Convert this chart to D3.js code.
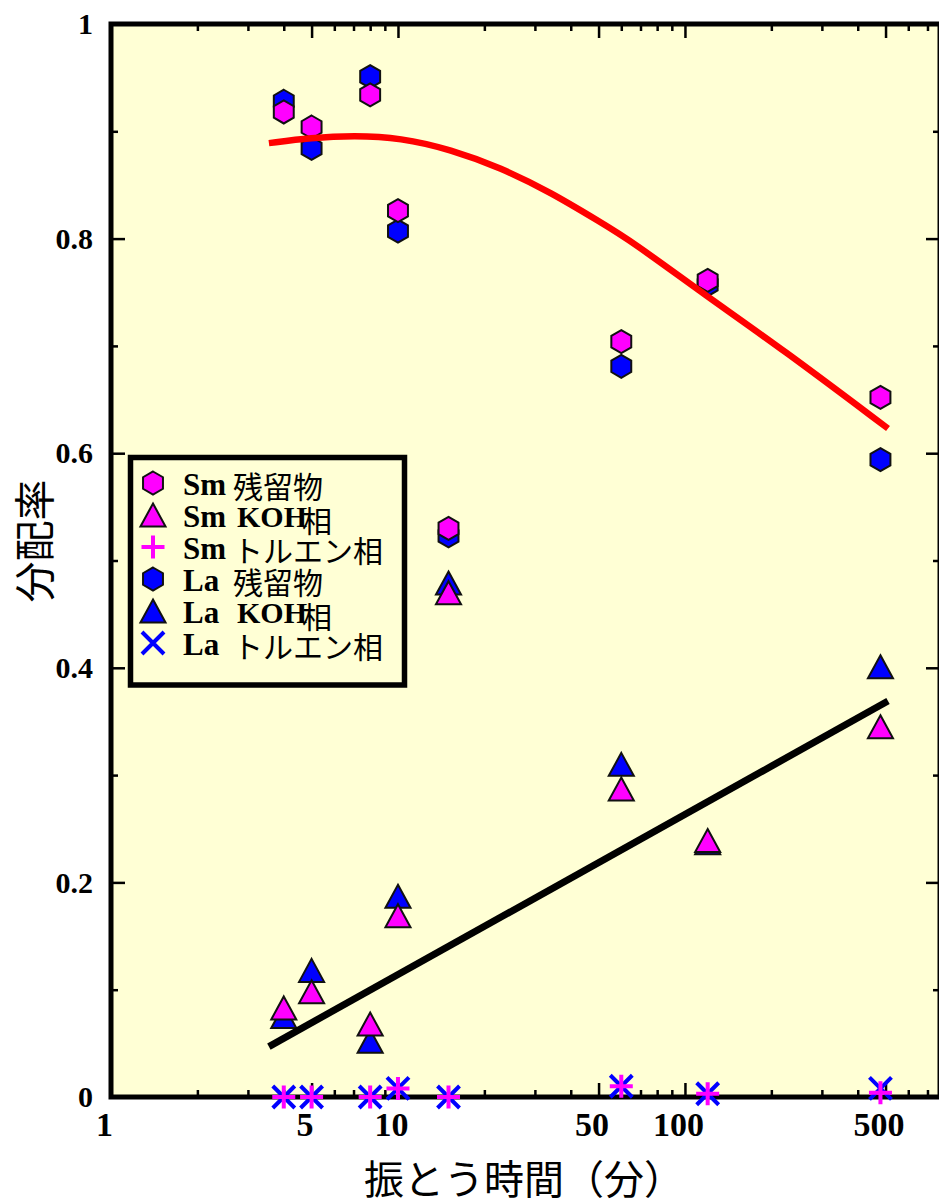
<!DOCTYPE html>
<html lang="ja">
<head>
<meta charset="UTF-8">
<title>分配率</title>
<script src="https://d3js.org/d3.v7.min.js"></script>
<style>
  body { margin: 0; background: #fff; }
  .tick text { font-family: "Liberation Serif", "Times New Roman", serif; font-weight: bold; font-size: 30px; fill: #000; }
  .xaxis .tick text { font-size: 34px; }
  .tick line { stroke: #000; stroke-width: 2.5px; }
  .jp { font-family: "Noto Sans CJK JP", sans-serif; fill: #000; }
  .lat { font-family: "Liberation Serif", "Times New Roman", serif; font-weight: bold; fill: #000; }
</style>
</head>
<body>
<svg id="chart" width="939" height="1204"></svg>
<script>
// shaking time (min)
const times = [4, 5, 8, 10, 15, 60, 120, 480];

// distribution ratios
const smResidue = [0.918, 0.904, 0.934, 0.826, 0.530, 0.704, 0.761, 0.652];
const laResidue = [0.928, 0.884, 0.951, 0.807, 0.523, 0.681, 0.757, 0.594];
const smKOH = [0.083, 0.098, 0.068, 0.169, 0.470, 0.287, 0.239, 0.345];
const laKOH = [0.075, 0.118, 0.052, 0.187, 0.479, 0.310, 0.237, 0.401];
const smToluene = [0, 0, 0, 0.008, 0, 0.010, 0.003, 0.004];
const laToluene = [0, 0, 0, 0.008, 0, 0.010, 0.003, 0.008];

// fitted curves (read as points along the drawn lines)
const redFitX = [3.55, 4.98, 7.03, 10.2, 15.3, 22.8, 34.1, 50.2, 64.9, 118, 216, 510];
const redFitY = [0.889, 0.894, 0.896, 0.894, 0.883, 0.866, 0.843, 0.816, 0.798, 0.747, 0.698, 0.623];
const blackFitX = [3.55, 510];
const blackFitY = [0.047, 0.369];

// ticks
const xTickValues = [1, 5, 10, 50, 100, 500];
const xMinorTicks = [2, 3, 4, 6, 7, 8, 9, 20, 30, 40, 60, 70, 80, 90, 200, 300, 400, 600, 700];
const yTickValues = [0, 0.2, 0.4, 0.6, 0.8, 1];
const yTickLabels = ["0", "0.2", "0.4", "0.6", "0.8", "1"];
const yMinorTicks = [0.1, 0.3, 0.5, 0.7, 0.9];

// legend
const legendElement = ["Sm", "Sm", "Sm", "La", "La", "La"];
const legendPhase = ["残留物", "KOH相", "トルエン相", "残留物", "KOH相", "トルエン相"];

const svg = d3.select("#chart");
const x = d3.scaleLog().domain([1, 774]).range([111, 940]);
const y = d3.scaleLinear().domain([0, 1]).range([1097, 24]);

// custom marker shapes
const hexagon = {
  draw(ctx, size) {
    const r = Math.sqrt(size);
    for (let i = 0; i < 6; i++) {
      const a = -Math.PI / 2 + i * Math.PI / 3;
      if (i === 0) ctx.moveTo(r * Math.cos(a), r * Math.sin(a));
      else ctx.lineTo(r * Math.cos(a), r * Math.sin(a));
    }
    ctx.closePath();
  }
};
const triangle = {
  draw(ctx, size) {
    const h = Math.sqrt(size), w = h * 1.09;
    ctx.moveTo(0, -h / 2);
    ctx.lineTo(w / 2, h / 2);
    ctx.lineTo(-w / 2, h / 2);
    ctx.closePath();
  }
};
const plus = {
  draw(ctx, size) {
    const r = Math.sqrt(size);
    ctx.moveTo(0, -r); ctx.lineTo(0, r);
    ctx.moveTo(-r, 0); ctx.lineTo(r, 0);
  }
};
const cross = {
  draw(ctx, size) {
    const r = Math.sqrt(size);
    ctx.moveTo(-r, -r); ctx.lineTo(r, r);
    ctx.moveTo(-r, r); ctx.lineTo(r, -r);
  }
};

const styles = {
  residue: { type: hexagon, size: 11.5 * 11.5, stroke: "#111", width: 2, filled: true },
  koh: { type: triangle, size: 23 * 23, stroke: "#111", width: 2, filled: true },
  tolPlus: { type: plus, size: 11.5 * 11.5, width: 4, filled: false },
  tolCross: { type: cross, size: 11 * 11, width: 4, filled: false }
};

// plot area
svg.append("rect")
  .attr("x", x.range()[0]).attr("y", y.range()[1])
  .attr("width", x.range()[1] - x.range()[0])
  .attr("height", y.range()[0] - y.range()[1])
  .attr("fill", "#ffffd5")
  .attr("stroke", "#000")
  .attr("stroke-width", 5);

function clean(g) { g.select(".domain").remove(); }

// left axis
svg.append("g").attr("transform", `translate(${x.range()[0]},0)`)
  .call(d3.axisLeft(y).tickValues(yTickValues).tickFormat((d, i) => yTickLabels[i]).tickSize(-14).tickPadding(18))
  .call(clean);
svg.append("g").attr("transform", `translate(${x.range()[0]},0)`)
  .call(d3.axisLeft(y).tickValues(yMinorTicks).tickFormat("").tickSize(-7))
  .call(clean);
// right axis
svg.append("g").attr("transform", `translate(${x.range()[1]},0)`)
  .call(d3.axisRight(y).tickValues(yTickValues).tickFormat("").tickSize(-14))
  .call(clean);
svg.append("g").attr("transform", `translate(${x.range()[1]},0)`)
  .call(d3.axisRight(y).tickValues(yMinorTicks).tickFormat("").tickSize(-7))
  .call(clean);
// bottom axis
svg.append("g").attr("class", "xaxis").attr("transform", `translate(0,${y.range()[0]})`)
  .call(d3.axisBottom(x).tickValues(xTickValues).tickFormat(d3.format("d")).tickSize(-14).tickPadding(15))
  .call(clean)
  .call(g => g.selectAll("text").attr("dx", -7));
svg.append("g").attr("transform", `translate(0,${y.range()[0]})`)
  .call(d3.axisBottom(x).tickValues(xMinorTicks).tickFormat("").tickSize(-7))
  .call(clean);
// top axis
svg.append("g").attr("transform", `translate(0,${y.range()[1]})`)
  .call(d3.axisTop(x).tickValues(xTickValues).tickFormat("").tickSize(-14))
  .call(clean);
svg.append("g").attr("transform", `translate(0,${y.range()[1]})`)
  .call(d3.axisTop(x).tickValues(xMinorTicks).tickFormat("").tickSize(-7))
  .call(clean);

// markers (La first, Sm drawn over it)
const series = [
  { values: laResidue, style: styles.residue, color: "#0000ff" },
  { values: smResidue, style: styles.residue, color: "#ff00ff" },
  { values: laKOH, style: styles.koh, color: "#0000ff" },
  { values: smKOH, style: styles.koh, color: "#ff00ff" },
  { values: laToluene, style: styles.tolCross, color: "#0000ff" },
  { values: smToluene, style: styles.tolPlus, color: "#ff00ff" }
];

function drawMarker(sel, st, color) {
  sel.attr("d", d3.symbol().type(st.type).size(st.size))
    .attr("fill", st.filled ? color : "none")
    .attr("stroke", st.filled ? st.stroke : color)
    .attr("stroke-width", st.width)
    .attr("stroke-linejoin", "miter");
}

series.forEach(s => {
  svg.append("g").selectAll("path")
    .data(times.map((t, i) => [t, s.values[i]]))
    .join("path")
    .attr("transform", d => `translate(${x(d[0])},${y(d[1])})`)
    .call(drawMarker, s.style, s.color);
});

// fit lines
svg.append("path")
  .datum(redFitX.map((v, i) => [v, redFitY[i]]))
  .attr("d", d3.line().x(d => x(d[0])).y(d => y(d[1])).curve(d3.curveBasis))
  .attr("fill", "none").attr("stroke", "#ff0000").attr("stroke-width", 6.5);
svg.append("path")
  .datum(blackFitX.map((v, i) => [v, blackFitY[i]]))
  .attr("d", d3.line().x(d => x(d[0])).y(d => y(d[1])))
  .attr("fill", "none").attr("stroke", "#000").attr("stroke-width", 7);

// legend
const legend = svg.append("g");
legend.append("rect")
  .attr("x", 130.5).attr("y", 457.5).attr("width", 274).attr("height", 227.5)
  .attr("fill", "#ffffd5").attr("stroke", "#000").attr("stroke-width", 5.5);

const legendStyles = [styles.residue, styles.koh, styles.tolPlus, styles.residue, styles.koh, styles.tolCross];
const legendColors = ["#ff00ff", "#ff00ff", "#ff00ff", "#0000ff", "#0000ff", "#0000ff"];

legendElement.forEach((el, i) => {
  const cy = 483 + i * 32;
  legend.append("path")
    .attr("transform", `translate(153,${cy})`)
    .call(drawMarker, legendStyles[i], legendColors[i]);
  legend.append("text").attr("class", "lat")
    .attr("x", 183).attr("y", cy + 12).attr("font-size", 31).text(el);
  const ph = legendPhase[i];
  if (ph.startsWith("KOH")) {
    legend.append("text").attr("class", "lat")
      .attr("x", 237).attr("y", cy + 12).attr("font-size", 30).text("KOH");
    legend.append("text").attr("class", "jp")
      .attr("x", 302).attr("y", cy + 17).attr("font-size", 30).text(ph.slice(3));
  } else {
    legend.append("text").attr("class", "jp")
      .attr("x", 233).attr("y", cy + 15).attr("font-size", 30).text(ph);
  }
});

// axis titles
svg.append("text").attr("class", "jp")
  .attr("x", 524).attr("y", 1194)
  .attr("text-anchor", "middle").attr("font-size", 40)
  .text("振とう時間（分）");
svg.append("text").attr("class", "jp")
  .attr("transform", "translate(50,541) rotate(-90)")
  .attr("text-anchor", "middle").attr("font-size", 41)
  .text("分配率");
</script>
</body>
</html>
